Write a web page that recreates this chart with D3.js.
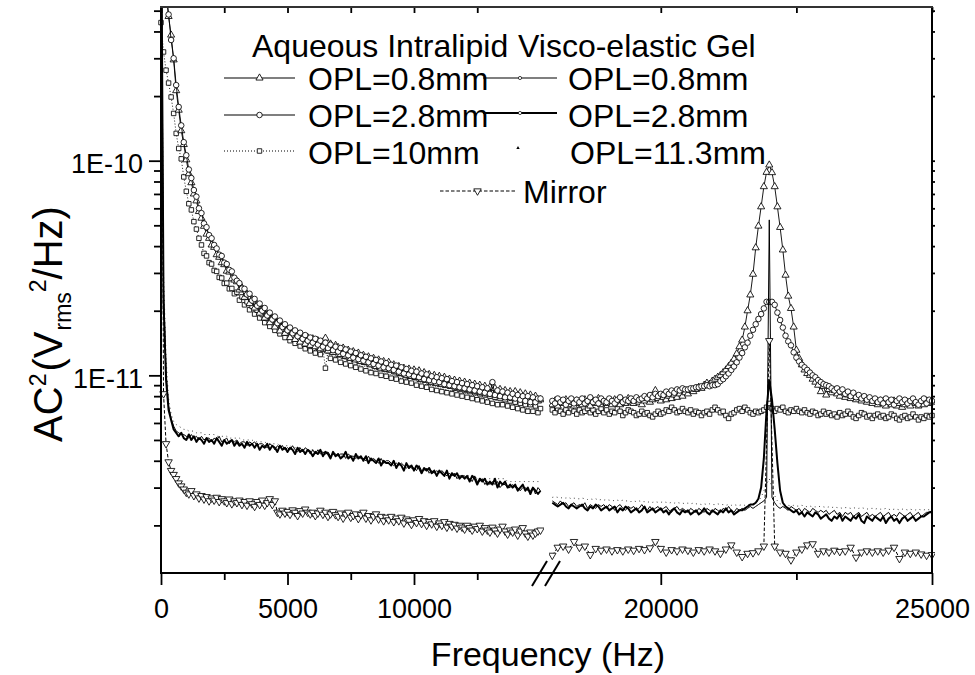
<!DOCTYPE html>
<html><head><meta charset="utf-8">
<script src="https://cdn.jsdelivr.net/npm/d3@7"></script>
<style>
body{margin:0;background:#fff}
svg{display:block}
text{font-family:"Liberation Sans",Arial,Helvetica,sans-serif;fill:#000}
</style>
</head><body>
<svg id="chart" width="975" height="675"></svg>
<script>
// ---------- DATA (values in units of 1E-12 V_rms^2/Hz) ----------
const freqLeft = d3.range(0, 15001, 100);          // left segment, 100 Hz bins
const freqRight = d3.range(18000, 25001, 50);      // right segment, 50 Hz bins
const freqMirrorRight = d3.range(18000, 25001, 100);

// Aqueous Intralipid OPL=0.8mm (triangles)
const aq08Left = [
2000,900,600,470,385,295,212,172,138,119,
101,87,79,70,65,58,54,49.5,45.5,43.5,
40.5,39.5,36.5,35.5,33.5,32.8,30.6,30.3,28.2,27.8,
27.3,25.0,25.6,23.1,23.9,21.6,22.6,20.6,21.4,19.5,
20.3,18.5,19.3,17.6,18.5,16.8,17.7,16.1,17.0,15.7,
16.4,15.0,16.0,14.7,15.6,14.3,15.2,14.0,15.0,13.8,
14.8,13.6,14.5,13.3,14.3,14.9,13.0,14.0,12.8,13.8,
13.5,12.5,13.4,12.3,13.1,12.0,12.9,11.8,12.7,11.6,
12.4,11.5,12.2,11.2,12.0,11.0,11.8,10.8,11.6,10.7,
11.5,10.6,11.2,10.4,11.0,10.2,10.8,10.0,10.7,9.9,
10.6,9.8,10.5,9.6,10.3,9.5,10.1,9.3,10.0,9.2,
9.9,9.1,9.8,9.0,9.6,8.9,9.5,8.8,9.4,8.7,
9.3,8.6,9.2,8.5,9.1,8.4,9.0,8.3,8.9,8.2,
8.8,8.2,8.7,8.1,8.6,8.0,8.5,7.9,8.4,7.8,
8.4,7.8,8.3,7.7,8.2,7.6,8.1,7.5,8.0,7.6,
7.7];
const aq08Right = [
7.3,7.6,7.2,7.5,7.4,7.7,7.3,7.5,7.2,7.6,
7.4,7.3,7.7,7.5,7.2,7.6,7.4,7.8,7.3,7.5,
7.4,7.6,7.3,7.7,7.5,7.3,7.6,7.4,7.8,7.5,
7.4,7.7,7.5,7.3,7.6,7.8,7.5,7.7,8.5,7.8,
7.6,7.9,7.7,8.0,7.8,8.1,7.9,8.2,8.0,8.3,
8.2,8.5,8.4,8.6,8.8,8.7,9.0,9.2,9.1,9.4,
9.6,9.8,10.0,10.3,10.6,11.0,11.4,11.9,12.6,13.6,
14.6,16.8,20.0,23.7,29.6,39.3,49.6,61.0,75.7,88.3,
95.5,88.0,75.7,61.0,48.9,38.4,29.3,23.4,20.5,16.8,
13.1,12.0,11.2,10.6,10.2,10.0,9.6,9.3,9.0,8.4,
8.9,8.1,8.6,8.3,8.5,8.2,8.0,8.3,7.9,8.1,
7.8,8.0,7.7,7.9,7.6,7.8,7.5,7.7,7.4,7.6,
7.3,7.6,7.4,7.2,7.5,7.3,7.6,7.2,7.4,7.1,
7.3,7.5,7.2,7.6,7.4,7.2,7.5,7.3,7.6,7.4,
7.5];

// Aqueous Intralipid OPL=2.8mm (circles)
const aq28Left = [
2000,900,620,480,365,300,225,178,146,122,
106,91,83,73,68,60,57,51,49,45,
43.5,40.5,39,36.5,36,33.5,33,31,30.5,28.5,
27.6,26.9,25.4,25.3,23.8,24.0,22.3,22.7,21.1,21.6,
20.0,20.6,19.0,19.6,18.2,18.8,17.5,18.0,16.8,17.3,
16.2,16.7,15.7,16.2,15.2,15.8,14.8,15.4,14.5,15.0,
14.2,14.8,13.9,14.5,13.6,14.2,13.4,13.9,13.1,13.6,
12.9,13.4,12.6,13.2,12.4,12.9,12.1,12.7,11.9,12.4,
11.7,12.2,11.5,12.0,11.3,11.8,11.1,11.6,10.9,11.4,
10.8,11.2,10.6,11.1,10.4,10.9,10.2,10.7,10.1,10.5,
9.9,10.4,9.8,10.2,9.6,10.1,9.5,9.9,9.4,9.8,
9.3,9.7,9.1,9.6,9.0,9.4,8.9,9.3,8.8,9.2,
8.7,9.1,8.6,9.0,8.5,8.9,8.4,8.8,8.3,8.7,
8.2,9.3,8.1,8.5,8.0,8.4,7.9,8.3,7.9,8.2,
7.8,8.1,7.7,8.0,7.6,8.0,7.5,7.9,7.5,7.8,
7.8];
const aq28Right = [
7.6,7.4,7.8,7.5,7.7,7.3,7.6,7.8,7.4,7.7,
7.5,7.8,7.4,7.6,7.9,7.5,7.7,7.4,7.8,7.6,
7.5,7.8,7.6,7.4,7.7,7.9,7.5,7.7,7.6,7.8,
7.6,7.9,7.7,7.8,8.0,7.8,8.1,7.9,8.2,8.0,
8.2,8.1,8.4,8.2,8.5,8.3,8.6,8.5,8.7,8.6,
8.6,8.7,8.7,8.8,8.8,8.9,8.9,9.0,8.9,9.0,
9.0,9.1,9.4,9.6,9.9,10.2,10.6,11.0,11.5,12.1,
12.7,13.5,14.2,15.3,16.3,17.3,18.3,19.3,20.5,22.0,
22.0,22.0,21.3,19.6,18.1,16.7,15.3,14.4,13.8,12.8,
12.1,11.6,11.2,10.9,10.6,10.3,10.0,9.8,9.5,9.3,
9.1,9.0,8.9,8.7,8.5,8.7,8.4,8.6,8.2,8.4,
8.0,8.3,7.9,8.1,7.8,8.0,7.7,7.9,7.6,7.8,
7.5,7.7,7.4,7.8,7.5,7.7,7.3,7.6,7.8,7.5,
7.7,7.4,7.6,7.8,7.5,7.3,7.6,7.8,7.4,7.7,
7.6];

// Aqueous Intralipid OPL=10mm (squares)
const aq10Left = [
440,321,264,230,198,166,134,114,102,84,
72,63,59,52,48,43.5,40.5,37,36,33.5,
33,30.8,30.5,28.6,28.4,26.8,26.9,25.3,25.4,24.0,
24.4,22.4,23.2,21.3,22.0,20.2,21.0,19.3,20.1,18.5,
19.2,17.6,18.4,16.9,17.7,16.2,17.0,15.6,16.4,15.0,
15.8,14.5,15.3,14.1,14.8,13.7,14.4,13.3,14.1,13.0,
13.8,12.7,13.5,12.5,13.2,10.8,13.0,12.0,12.8,11.8,
12.5,11.5,12.3,11.3,12.1,11.1,11.9,10.9,11.7,10.7,
11.5,10.5,11.3,10.3,11.1,10.2,10.9,10.0,10.7,9.9,
10.6,9.7,10.4,9.6,10.2,9.4,10.1,9.3,9.9,9.2,
9.8,9.0,9.6,8.9,9.5,8.8,9.3,8.6,9.2,8.5,
9.1,8.4,9.0,8.3,8.9,8.2,8.7,8.1,8.6,8.0,
8.5,7.9,8.4,7.8,8.3,7.7,8.2,7.6,8.1,7.5,
8.0,7.4,7.9,7.3,7.8,7.3,7.7,7.2,7.6,7.1,
7.5,7.0,7.4,6.9,7.3,6.8,7.3,6.8,7.2,6.7,
7.0];
const aq10Right = [
6.9,6.7,7.0,6.8,6.6,6.9,6.7,7.0,6.8,6.6,
6.9,6.7,6.8,7.0,6.7,6.9,6.6,6.8,7.0,6.7,
6.9,6.6,6.8,6.7,7.0,6.8,6.5,6.7,6.9,6.8,
6.7,6.5,6.6,6.8,6.6,6.7,6.5,6.4,6.6,6.8,
6.6,6.7,6.9,6.8,7.1,6.9,6.7,6.8,7.0,6.8,
6.7,6.9,6.6,6.8,6.7,6.5,6.7,6.8,6.6,6.9,
7.1,6.9,6.7,6.8,6.5,6.3,6.6,6.7,6.9,7.0,
6.8,7.1,6.9,6.7,6.6,6.8,6.7,6.8,6.9,7.1,
7.4,7.0,6.8,7.0,6.9,7.1,6.8,6.7,6.9,6.8,
7.0,6.8,6.7,6.9,6.7,6.6,6.8,6.7,6.5,6.6,
6.8,6.6,6.7,6.5,6.6,6.4,6.7,6.5,6.6,6.8,
6.6,6.4,6.3,6.5,6.7,6.6,6.4,6.5,6.3,6.5,
6.6,6.4,6.5,6.3,6.4,6.6,6.5,6.3,6.2,6.4,
6.5,6.3,6.4,6.6,6.4,6.2,6.4,6.3,6.5,6.4,
6.5];

// Visco-elastic Gel OPL=0.8mm (thin line)
const gel08Left = [
2000,26,10.5,7.2,6.3,5.8,5.5,5.4,5.3,5.3,
5.2,5.1,5.3,5.1,5.2,5.0,5.2,5.0,5.1,5.1,
4.9,5.1,5.0,5.2,4.9,5.0,5.1,4.8,5.0,4.9,
5.0,4.8,4.9,4.9,4.7,4.9,4.8,4.9,4.7,4.8,
4.8,4.7,4.6,4.8,4.7,4.5,4.7,4.6,4.7,4.5,
4.6,4.5,4.7,4.5,4.4,4.6,4.4,4.6,4.5,4.3,
4.5,4.3,4.5,4.3,4.4,4.3,4.4,4.2,4.3,4.3,
4.2,4.3,4.3,4.1,4.3,4.2,4.2,4.1,4.2,4.1,
4.1,4.0,4.2,4.0,4.1,4.0,3.9,4.1,3.9,4.0,
4.0,3.9,3.8,3.9,3.8,3.9,3.8,3.7,3.8,3.7,
3.7,3.6,3.8,3.6,3.6,3.7,3.5,3.6,3.5,3.6,
3.5,3.6,3.5,3.4,3.5,3.4,3.5,3.3,3.4,3.4,
3.4,3.3,3.3,3.2,3.4,3.2,3.2,3.3,3.1,3.2,
3.1,3.2,3.1,3.2,3.0,3.1,3.1,3.0,3.0,3.1,
3.0,3.0,2.9,3.0,3.0,2.9,2.9,3.0,2.8,3.0,
2.9];
const gel08Right = [
2.6,2.55,2.5,2.6,2.5,2.55,2.45,2.5,2.55,2.45,
2.5,2.45,2.55,2.4,2.5,2.45,2.4,2.5,2.45,2.5,
2.4,2.5,2.45,2.35,2.45,2.5,2.4,2.35,2.45,2.4,
2.45,2.35,2.4,2.5,2.4,2.35,2.45,2.35,2.4,2.45,
2.35,2.4,2.45,2.35,2.3,2.4,2.45,2.35,2.4,2.35,
2.3,2.4,2.35,2.3,2.4,2.35,2.3,2.4,2.35,2.3,
2.4,2.35,2.3,2.4,2.35,2.45,2.35,2.3,2.4,2.35,
2.4,2.35,2.4,2.45,2.4,2.45,2.5,2.55,2.6,2.7,
53,2.7,2.55,2.45,2.4,2.45,2.4,2.35,2.45,2.4,
2.35,2.4,2.3,2.4,2.35,2.3,2.4,2.35,2.3,2.35,
2.3,2.35,2.25,2.3,2.35,2.25,2.3,2.2,2.3,2.25,
2.3,2.2,2.25,2.3,2.2,2.25,2.3,2.2,2.25,2.2,
2.25,2.3,2.2,2.25,2.3,2.2,2.25,2.2,2.3,2.25,
2.2,2.25,2.3,2.2,2.25,2.3,2.2,2.25,2.3,2.3,
2.35];

// Visco-elastic Gel OPL=2.8mm (thick line)
const gel28Left = [
2000,22,9.5,6.9,6.2,5.6,5.4,5.2,5.4,5.1,
5.0,5.3,5.0,5.2,4.9,5.1,5.0,4.8,5.1,4.9,
5.0,4.8,5.1,4.9,4.7,5.0,4.8,4.9,5.0,4.7,
4.9,4.7,4.8,4.6,4.9,4.7,4.8,4.6,4.8,4.5,
4.7,4.6,4.8,4.5,4.7,4.6,4.4,4.7,4.5,4.6,
4.4,4.6,4.5,4.3,4.6,4.4,4.5,4.3,4.5,4.4,
4.2,4.4,4.3,4.5,4.2,4.4,4.3,4.1,4.4,4.2,
4.3,4.1,4.2,4.4,4.1,4.2,4.0,4.3,4.1,4.2,
4.0,4.2,3.9,4.1,4.0,3.9,4.1,3.8,4.0,3.9,
3.9,3.8,4.0,3.7,3.9,3.8,3.6,3.9,3.7,3.8,
3.6,3.8,3.7,3.5,3.7,3.6,3.7,3.5,3.6,3.4,
3.6,3.5,3.4,3.6,3.3,3.5,3.4,3.5,3.3,3.4,
3.3,3.4,3.2,3.4,3.3,3.1,3.3,3.2,3.3,3.1,
3.2,3.1,3.3,3.0,3.2,3.1,3.2,3.0,3.1,3.0,
3.1,2.9,3.0,3.1,2.9,3.0,2.8,3.0,2.9,2.8,
2.9];
const gel28Right = [
2.55,2.5,2.45,2.5,2.55,2.45,2.4,2.5,2.45,2.4,
2.45,2.5,2.4,2.35,2.45,2.4,2.5,2.45,2.35,2.4,
2.45,2.35,2.4,2.45,2.3,2.4,2.35,2.45,2.4,2.3,
2.35,2.4,2.3,2.35,2.45,2.3,2.35,2.4,2.3,2.35,
2.4,2.3,2.35,2.25,2.35,2.4,2.3,2.25,2.35,2.3,
2.35,2.25,2.3,2.35,2.25,2.3,2.4,2.3,2.25,2.35,
2.3,2.25,2.35,2.3,2.4,2.3,2.35,2.25,2.3,2.35,
2.35,2.4,2.45,2.5,2.5,2.55,2.66,3.0,4.1,6.9,
9.5,7.7,5.6,3.9,2.9,2.55,2.45,2.4,2.35,2.3,
2.35,2.25,2.3,2.2,2.3,2.25,2.2,2.3,2.25,2.15,
2.2,2.25,2.15,2.1,2.2,2.15,2.25,2.1,2.2,2.15,
2.1,2.2,2.15,2.25,2.1,2.05,2.2,2.15,2.1,2.2,
2.15,2.1,2.2,2.05,2.15,2.2,2.1,2.15,2.05,2.15,
2.2,2.1,2.15,2.2,2.1,2.15,2.2,2.2,2.25,2.3,
2.3];

// Visco-elastic Gel OPL=11.3mm (dotted)
const gel113Left = [
2000,30,12,7.8,6.6,6.1,5.9,5.8,5.7,5.6,
5.6,5.5,5.5,5.5,5.4,5.4,5.4,5.3,5.3,5.3,
5.3,5.3,5.2,5.2,5.2,5.2,5.2,5.1,5.1,5.1,
5.1,5.1,5.0,5.0,5.0,5.0,5.0,4.9,4.9,4.9,
4.9,4.9,4.8,4.8,4.8,4.8,4.8,4.7,4.7,4.7,
4.7,4.7,4.6,4.6,4.6,4.6,4.5,4.5,4.5,4.5,
4.5,4.4,4.4,4.4,4.4,4.4,4.3,4.3,4.3,4.3,
4.3,4.2,4.2,4.2,4.2,4.2,4.1,4.1,4.1,4.1,
4.1,4.0,4.0,4.0,4.0,4.0,3.9,3.9,3.9,3.9,
3.9,3.9,3.8,3.8,3.8,3.8,3.8,3.7,3.7,3.7,
3.7,3.7,3.7,3.6,3.6,3.6,3.6,3.6,3.5,3.5,
3.5,3.5,3.5,3.5,3.5,3.5,3.4,3.4,3.4,3.4,
3.4,3.4,3.4,3.4,3.4,3.3,3.3,3.3,3.3,3.3,
3.3,3.3,3.3,3.3,3.3,3.3,3.3,3.2,3.2,3.2,
3.2,3.2,3.2,3.2,3.2,3.2,3.2,3.2,3.2,3.2,
3.2];
const gel113Right = [
2.7,2.72,2.7,2.68,2.7,2.68,2.7,2.66,2.68,2.66,
2.66,2.68,2.66,2.64,2.66,2.64,2.66,2.62,2.64,2.62,
2.64,2.62,2.62,2.6,2.62,2.6,2.62,2.6,2.6,2.58,
2.6,2.58,2.6,2.58,2.58,2.56,2.58,2.56,2.58,2.56,
2.56,2.58,2.56,2.54,2.56,2.54,2.56,2.54,2.54,2.52,
2.54,2.52,2.54,2.52,2.52,2.5,2.52,2.5,2.52,2.5,
2.5,2.52,2.5,2.5,2.48,2.5,2.48,2.5,2.48,2.48,
2.5,2.48,2.5,2.5,2.52,2.55,2.6,2.7,2.9,3.1,
3.3,3.0,2.75,2.6,2.52,2.5,2.48,2.48,2.46,2.48,
2.46,2.46,2.48,2.46,2.44,2.46,2.44,2.44,2.46,2.44,
2.44,2.42,2.44,2.42,2.44,2.42,2.42,2.4,2.42,2.42,
2.4,2.42,2.4,2.4,2.42,2.4,2.38,2.4,2.4,2.38,
2.4,2.38,2.38,2.4,2.38,2.36,2.38,2.38,2.36,2.38,
2.38,2.36,2.38,2.36,2.36,2.38,2.36,2.36,2.38,2.36,
2.36];

// Mirror (down triangles, dashed)
const mirrorLeft = [
3000,8.2,4.8,3.95,3.6,3.45,3.3,3.15,3.05,2.95,
2.85,2.8,2.9,2.75,2.8,2.68,2.75,2.65,2.72,2.6,
2.68,2.62,2.7,2.58,2.66,2.6,2.55,2.65,2.52,2.6,
2.55,2.62,2.5,2.58,2.48,2.6,2.52,2.45,2.58,2.5,
2.62,2.48,2.55,2.66,2.5,2.6,2.3,2.26,2.35,2.28,
2.32,2.25,2.36,2.3,2.22,2.34,2.28,2.38,2.3,2.26,
2.3,2.22,2.28,2.35,2.25,2.3,2.2,2.26,2.32,2.24,
2.2,2.28,2.16,2.25,2.3,2.18,2.22,2.26,2.15,2.24,
2.3,2.16,2.22,2.12,2.2,2.26,2.14,2.2,2.1,2.18,
2.12,2.2,2.08,2.16,2.1,2.18,2.05,2.14,2.1,2.02,
2.12,2.06,2.15,2.04,2.1,2.0,2.08,2.03,2.1,1.98,
2.05,2.0,2.08,1.96,2.04,1.98,2.02,1.94,2.0,1.96,
1.92,2.0,1.95,1.9,1.98,1.93,2.0,1.88,1.95,1.9,
1.86,1.96,1.9,1.84,1.92,1.98,1.88,1.82,1.9,1.86,
1.92,1.8,1.88,1.95,1.84,1.78,1.86,1.8,1.84,1.88,
1.9];
const mirrorRight = [
1.45,1.58,1.6,1.55,1.68,1.58,1.6,1.46,1.56,1.53,
1.55,1.52,1.54,1.52,1.55,1.53,1.56,1.54,1.57,1.68,
1.56,1.5,1.54,1.52,1.55,1.53,1.5,1.54,1.52,1.55,
1.52,1.48,1.55,1.62,1.5,1.43,1.48,1.49,1.52,1.6,
14.5,1.6,1.5,1.48,1.38,1.5,1.55,1.62,1.64,1.48,
1.52,1.5,1.53,1.51,1.52,1.58,1.42,1.5,1.52,1.5,
1.52,1.5,1.53,1.58,1.4,1.5,1.48,1.5,1.47,1.45,
1.46];

// Axis ticks and labels
const xTicksLeftMajor = [0, 5000, 10000];
const xTicksLeftMinor = [2500, 7500, 12500];
const xTicksRightMajor = [20000, 25000];
const xTicksRightMinor = [22500];
const yTicksMajor = [1e-10, 1e-11];
const yTickLabels = {"1e-10": "1E-10", "1e-11": "1E-11"};
const UNIT = 1e-12;

// ---------- LAYOUT ----------
const svg = d3.select("#chart");
const plot = {left: 161, right: 932, top: 7, bottom: 573};
const xL = d3.scaleLinear().domain([0, 15000]).range([161, 540.5]);
const xR = d3.scaleLinear().domain([18000, 25000]).range([552.3, 932]);
const y = d3.scaleLog().domain([1.2e-12, 5.2e-10]).range([plot.bottom, plot.top]);

const defs = svg.append("defs");
defs.append("clipPath").attr("id", "clipL").append("rect")
  .attr("x", plot.left - 3).attr("y", plot.top).attr("width", 544 - plot.left + 3).attr("height", plot.bottom - plot.top);
defs.append("clipPath").attr("id", "clipR").append("rect")
  .attr("x", 549).attr("y", plot.top).attr("width", plot.right - 549 + 3).attr("height", plot.bottom - plot.top);

function pts(freqs, vals) { return freqs.map((f, i) => ({f: f, v: vals[i]})).filter(d => d.v != null); }

const series = [
  {name: "aq10", left: aq10Left, right: aq10Right, sym: "square", line: "dotted"},
  {name: "aq08", left: aq08Left, right: aq08Right, sym: "triangle", line: "solid"},
  {name: "aq28", left: aq28Left, right: aq28Right, sym: "circle", line: "solid"},
  {name: "gel113", left: gel113Left, right: gel113Right, sym: null, line: "gelDotted"},
  {name: "gel08", left: gel08Left, right: gel08Right, sym: null, line: "thin"},
  {name: "gel28", left: gel28Left, right: gel28Right, sym: null, line: "thick"},
  {name: "mirror", left: mirrorLeft, right: mirrorRight, sym: "down", line: "dashed", rightFreq: freqMirrorRight}
];

const lineStyles = {
  solid: {w: 0.9, dash: null, c: "#000"},
  dotted: {w: 0.9, dash: "1,2", c: "#000"},
  gelDotted: {w: 1, dash: "1,3.5", c: "#444"},
  thin: {w: 1, dash: null, c: "#000"},
  thick: {w: 2, dash: null, c: "#000"},
  dashed: {w: 1, dash: "3.5,2", c: "#000"}
};

const symGen = {
  triangle: d3.symbol().type(d3.symbolTriangle).size(22),
  circle: d3.symbol().type(d3.symbolCircle).size(24),
  square: d3.symbol().type(d3.symbolSquare).size(20),
  down: d3.symbol().type(d3.symbolTriangle).size(24)
};

function drawSeries(g, xs, data, s) {
  const st = lineStyles[s.line];
  const line = d3.line().x(d => xs(d.f)).y(d => y(d.v * UNIT));
  g.append("path").datum(data).attr("d", line)
    .attr("fill", "none").attr("stroke", st.c).attr("stroke-width", st.w)
    .attr("stroke-dasharray", st.dash).attr("stroke-linejoin", "round");
  if (s.sym) {
    g.selectAll(null).data(data).enter().append("path")
      .attr("d", symGen[s.sym])
      .attr("transform", d => `translate(${xs(d.f)},${y(d.v * UNIT)})` + (s.sym === "down" ? " rotate(180)" : ""))
      .attr("fill", "#fff").attr("stroke", "#000").attr("stroke-width", 0.85);
  }
}

const gL = svg.append("g").attr("clip-path", "url(#clipL)");
const gR = svg.append("g").attr("clip-path", "url(#clipR)");
series.forEach(s => {
  drawSeries(gL, xL, pts(freqLeft, s.left), s);
  drawSeries(gR, xR, pts(s.rightFreq || freqRight, s.right), s);
});

// ---------- AXES ----------
const axG = svg.append("g");
function styleAxis(g) { g.select(".domain").remove(); g.selectAll("line").attr("stroke", "#000").attr("stroke-width", 1.8); }

[[xL, xTicksLeftMajor, xTicksLeftMinor], [xR, xTicksRightMajor, xTicksRightMinor]].forEach(([sc, maj, min]) => {
  const a1 = axG.append("g").attr("transform", `translate(0,${plot.bottom})`)
    .call(d3.axisBottom(sc).tickValues(maj).tickSize(12).tickPadding(14).tickFormat(d3.format("d")));
  styleAxis(a1);
  a1.selectAll("text").attr("font-size", 27).attr("fill", "#000").attr("font-family", "Liberation Sans, Arial, sans-serif");
  const a2 = axG.append("g").attr("transform", `translate(0,${plot.bottom})`)
    .call(d3.axisBottom(sc).tickValues(min).tickSize(7).tickFormat(""));
  styleAxis(a2);
  const a3 = axG.append("g").attr("transform", `translate(0,${plot.top})`)
    .call(d3.axisTop(sc).tickValues(maj.concat(min)).tickSize(-6).tickFormat(""));
  styleAxis(a3);
});

const yMinor = [];
[1e-12, 1e-11, 1e-10].forEach(dec => { for (let k = 2; k <= 9; k++) { const v = k * dec; if (v >= y.domain()[0] && v <= y.domain()[1]) yMinor.push(v); } });
const ay1 = axG.append("g").attr("transform", `translate(${plot.left},0)`)
  .call(d3.axisLeft(y).tickValues(yTicksMajor).tickSize(12).tickPadding(6).tickFormat(d => yTickLabels[String(d)] || ""));
styleAxis(ay1);
ay1.selectAll("text").attr("font-size", 27).attr("fill", "#000").attr("dy", "0.45em").attr("font-family", "Liberation Sans, Arial, sans-serif");
const ay2 = axG.append("g").attr("transform", `translate(${plot.left},0)`)
  .call(d3.axisLeft(y).tickValues(yMinor).tickSize(7).tickFormat(""));
styleAxis(ay2);
const ay3 = axG.append("g").attr("transform", `translate(${plot.right},0)`)
  .call(d3.axisRight(y).tickValues(yTicksMajor.concat(yMinor)).tickSize(3).tickFormat(""));
styleAxis(ay3);

// frame lines
const frame = svg.append("g").attr("stroke", "#000").attr("stroke-width", 2).attr("fill", "none");
frame.append("line").attr("x1", plot.left).attr("x2", plot.left).attr("y1", plot.top - 1).attr("y2", plot.bottom + 1);
frame.append("line").attr("x1", plot.right).attr("x2", plot.right).attr("y1", plot.top - 1).attr("y2", plot.bottom + 1);
frame.append("line").attr("x1", plot.left - 1).attr("x2", plot.right + 1).attr("y1", plot.bottom).attr("y2", plot.bottom);
frame.append("line").attr("x1", plot.left - 1).attr("x2", plot.right + 1).attr("y1", plot.top).attr("y2", plot.top).attr("stroke", "#333");
frame.append("line").attr("x1", 532).attr("y1", 586).attr("x2", 547).attr("y2", 561);
frame.append("line").attr("x1", 545).attr("y1", 586).attr("x2", 560).attr("y2", 561);

// titles
svg.append("text").attr("x", 548).attr("y", 666).attr("text-anchor", "middle")
  .attr("font-size", 34).text("Frequency (Hz)");
const yt = svg.append("text").attr("transform", "translate(62,324) rotate(-90)")
  .attr("text-anchor", "middle").attr("font-size", 40);
yt.append("tspan").text("AC");
yt.append("tspan").attr("font-size", 23).attr("dy", -16).text("2");
yt.append("tspan").attr("dy", 16).attr("dx", 2).text("(V");
yt.append("tspan").attr("font-size", 23).attr("dy", 9).attr("dx", 1).text("rms");
yt.append("tspan").attr("font-size", 23).attr("dy", -25).text("2");
yt.append("tspan").attr("dy", 16).text("/Hz)");

// ---------- LEGEND ----------
const lg = svg.append("g");
const lgFont = 32;
lg.append("text").attr("x", 252).attr("y", 57).attr("font-size", lgFont).text("Aqueous Intralipid");
lg.append("text").attr("x", 518).attr("y", 57).attr("font-size", lgFont).text("Visco-elastic Gel");
const legendItems = [
  {x1: 224, x2: 295, y: 78, line: "solid", sym: "triangle", label: "OPL=0.8mm", tx: 308, ty: 90},
  {x1: 224, x2: 295, y: 115, line: "solid", sym: "circle", label: "OPL=2.8mm", tx: 308, ty: 127},
  {x1: 224, x2: 295, y: 151, line: "dotted", sym: "square", label: "OPL=10mm", tx: 308, ty: 164},
  {x1: 483, x2: 557, y: 78, line: "thin", sym: "tiny", label: "OPL=0.8mm", tx: 568, ty: 90},
  {x1: 483, x2: 557, y: 113, line: "thick", sym: "tiny", label: "OPL=2.8mm", tx: 568, ty: 127},
  {x1: 483, x2: 557, y: 148, line: null, sym: "tinyTri", label: "OPL=11.3mm", tx: 570, ty: 164},
  {x1: 440, x2: 515, y: 191, line: "dashed", sym: "down", label: "Mirror", tx: 523, ty: 203}
];
legendItems.forEach(it => {
  const cx = (it.x1 + it.x2) / 2;
  if (it.line) {
    const st = lineStyles[it.line];
    lg.append("line").attr("x1", it.x1).attr("x2", it.x2).attr("y1", it.y).attr("y2", it.y)
      .attr("stroke", st.c).attr("stroke-width", it.line === "thick" ? 1.8 : 1.1).attr("stroke-dasharray", st.dash);
  }
  if (it.sym === "tiny") {
    lg.append("circle").attr("cx", cx).attr("cy", it.y).attr("r", 1.6).attr("fill", "#fff").attr("stroke", "#000").attr("stroke-width", 0.7);
  } else if (it.sym === "tinyTri") {
    lg.append("path").attr("d", d3.symbol().type(d3.symbolTriangle).size(5)).attr("transform", `translate(${cx - 2},${it.y})`).attr("fill", "#000");
  } else {
    lg.append("path").attr("d", symGen[it.sym])
      .attr("transform", `translate(${cx},${it.y})` + (it.sym === "down" ? " rotate(180)" : ""))
      .attr("fill", "#fff").attr("stroke", "#000").attr("stroke-width", 0.85);
  }
  lg.append("text").attr("x", it.tx).attr("y", it.ty).attr("font-size", lgFont).text(it.label);
});
</script>
</body></html>
